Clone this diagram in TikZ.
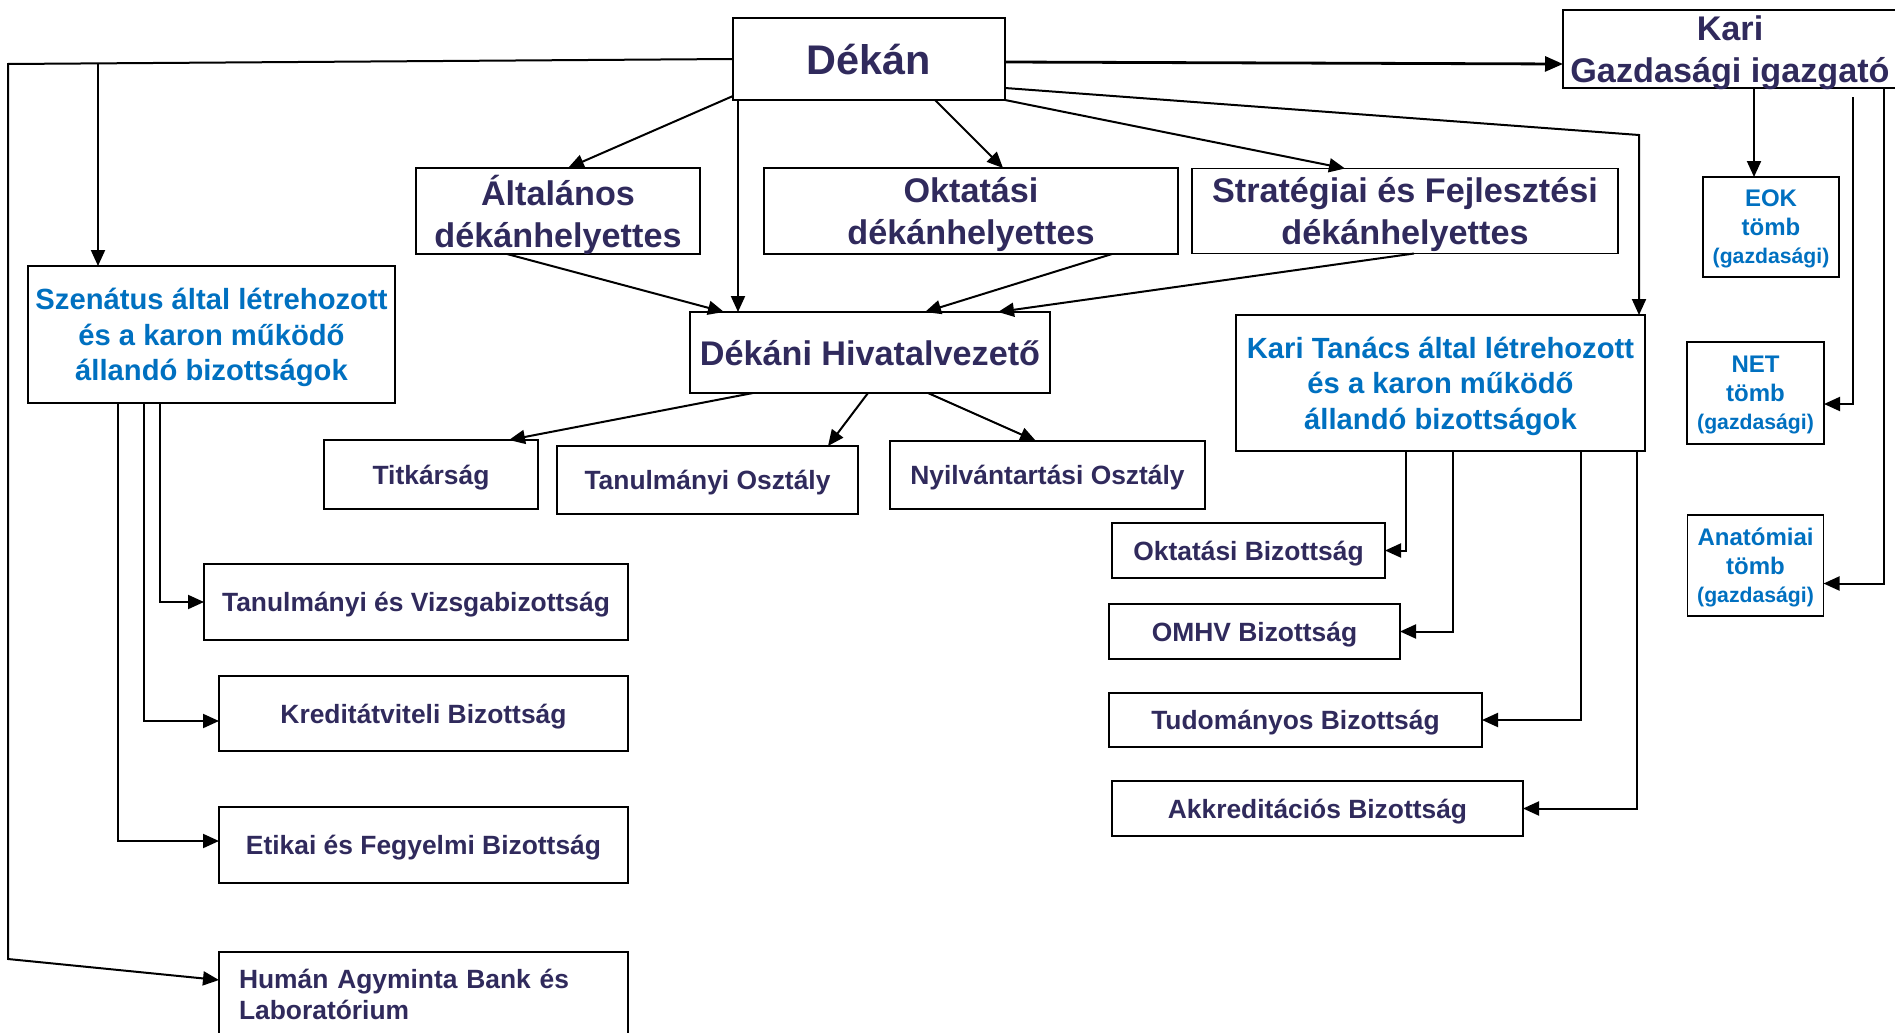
\documentclass[tikz,border=0pt]{standalone}
\usepackage{fontspec}
\setmainfont{Liberation Sans}
\usepackage{tikz}
\usetikzlibrary{positioning}
\usetikzlibrary{arrows.meta}

\definecolor{navy}{HTML}{302A5C}
\definecolor{karblue}{HTML}{0070C0}

\begin{document}
\begin{tikzpicture}[
                            box/.style={draw, line width=0.9pt, inner sep=0pt, outer sep=0pt, text depth=0pt, align=center, text=navy, font=\bfseries},
                            bigbox/.style={box, font=\bfseries\fontsize{17.1}{21}\selectfont},
                            smallbox/.style={box, font=\bfseries\fontsize{13.2}{15.5}\selectfont},
                            bluebox/.style={box, text=karblue, font=\bfseries\fontsize{14.6}{17.75}\selectfont},
                            tombbox/.style={box, text=karblue, font=\bfseries\fontsize{12}{14.25}\selectfont},
                            line/.style={line width=1pt},
                            arrow/.style={line width=1pt, -{Triangle[length=8pt,width=7pt]}}
                            ]
                            \useasboundingbox (0,0) rectangle (947.5pt,-516.5pt);

                            \node[box, font=\bfseries\fontsize{20.7}{24}\selectfont,
                                  minimum width=136pt, minimum height=41pt]                             (dekan)      at (434.5pt,-29.5pt) {Dékán};
                            \node[bigbox, minimum width=167pt, minimum height=39pt, right=279pt of dekan, yshift=5pt]          (gazd)       {Kari\\Gazdasági igazgató};
                            \node[bigbox, minimum width=142pt, minimum height=43pt, below=34pt of dekan, xshift=-155.5pt]      (altalanos)  {Általános\\dékánhelyettes};
                            \node[bigbox, minimum width=207pt, minimum height=43pt, below=34pt of dekan, xshift=51pt]          (oktatasi)   {Oktatási\\dékánhelyettes};
                            \node[bigbox, minimum width=213pt, minimum height=42.5pt, right=7pt of oktatasi]                   (strategiai) {Stratégiai és Fejlesztési\\dékánhelyettes};
                            \node[bigbox, minimum width=180pt, minimum height=40.5pt, below=106pt of dekan, xshift=0.5pt]      (hivatal)    {Dékáni Hivatalvezető};
                            \node[bluebox, minimum width=183.5pt, minimum height=68.5pt, left=147.5pt of hivatal, yshift=9pt]  (szenatus)   {Szenátus által létrehozott\\és a karon működő\\állandó bizottságok};
                            \node[bluebox, minimum width=204.5pt, minimum height=68pt, right=93pt of hivatal, yshift=-15.25pt] (karitanacs) {Kari Tanács által létrehozott\\és a karon működő\\állandó bizottságok};

                            \node[tombbox, minimum width=68pt, minimum height=50pt, below=44.5pt of gazd, xshift=20.5pt]      (eok)        {EOK\\tömb\\{\fontsize{10.6}{14.25}\selectfont(gazdasági)}};
                            \node[tombbox, minimum width=68.5pt, minimum height=51pt, below=32.5pt of eok, xshift=-7.75pt]    (net)        {NET\\tömb\\{\fontsize{10.6}{14.25}\selectfont(gazdasági)}};
                            \node[tombbox, minimum width=68pt, minimum height=50.5pt, below=35.5pt of net]                    (anatomiai)  {Anatómiai\\tömb\\{\fontsize{10.6}{14.25}\selectfont(gazdasági)}};

                            \node[smallbox, minimum width=107pt, minimum height=34.5pt, below=23.5pt of hivatal, xshift=-219.5pt] (titkarsag)      {Titkárság};
                            \node[smallbox, minimum width=150.5pt, minimum height=34pt, right=9.5pt of titkarsag, yshift=-2.75pt] (tanosztaly)     {Tanulmányi Osztály};
                            \node[smallbox, minimum width=157.5pt, minimum height=34pt, right=16pt of tanosztaly, yshift=2.5pt]   (nyilvantartasi) {Nyilvántartási Osztály};

                            \node[smallbox, minimum width=212pt, minimum height=38pt, below=27.5pt of titkarsag, xshift=-7.5pt]  (tanvizsga) {Tanulmányi és Vizsgabizottság};
                            \node[smallbox, minimum width=204.5pt, minimum height=37.5pt, below=18pt of tanvizsga, xshift=3.75pt] (kredit)    {Kreditátviteli Bizottság};
                            \node[smallbox, minimum width=204.5pt, minimum height=38pt, below=28pt of kredit]                     (etikai)    {Etikai és Fegyelmi Bizottság};
                            \node[smallbox, text width=184.5pt, inner xsep=10pt, minimum height=42.5pt, align=left, text depth=15.5pt,
                                  below=34.5pt of etikai]                                                                          (human)     {Humán Agyminta Bank és\\Laboratórium};

                            \node[smallbox, minimum width=136.5pt, minimum height=27.5pt, below=36pt of karitanacs, xshift=-96pt] (oktbiz) {Oktatási Bizottság};
                            \node[smallbox, minimum width=145.5pt, minimum height=27.5pt, below=13pt of oktbiz, xshift=3pt]       (omhv)   {OMHV Bizottság};
                            \node[smallbox, minimum width=186.5pt, minimum height=27pt, below=17pt of omhv, xshift=20.5pt]        (tudbiz) {Tudományos Bizottság};
                            \node[smallbox, minimum width=205.5pt, minimum height=27.5pt, below=17pt of tudbiz, xshift=11pt]      (akkbiz) {Akkreditációs Bizottság};

                            \coordinate (leftup)   at (4pt,-32pt);
                            \coordinate (leftdown) at (4pt,-479.5pt);
                            \coordinate (szbranch) at (49pt,-31.5pt);
                            \coordinate (ktbend)   at (819.5pt,-67.5pt);
                            \coordinate (netline)  at (926.5pt,-48.5pt);
                            \coordinate (dh)       at ([xshift=2.5pt]dekan.south west);
                            \coordinate (eokin)    at ([xshift=-8.5pt]eok.north);

                            \draw[arrow] (dekan.west) -- (leftup) -- (leftdown) -- ([yshift=-14pt]human.north west);
                            \draw[arrow] (szbranch) -- (szbranch |- szenatus.north);
                            \draw[arrow, line width=1.4pt, -{Triangle[length=9pt,width=7.5pt]}] ([yshift=-1.5pt]dekan.east) -- ([yshift=-7.5pt]gazd.west);
                            \draw[arrow] ([yshift=2pt]dekan.south west) -- ([xshift=5pt]altalanos.north);
                            \draw[arrow] (dh) -- (dh |- hivatal.north);
                            \draw[arrow] ([xshift=33pt]dekan.south) -- ([xshift=16pt]oktatasi.north);
                            \draw[arrow] (dekan.south east) -- ([xshift=-30pt]strategiai.north);
                            \draw[arrow] ([yshift=6pt]dekan.south east) -- (ktbend) -- (ktbend |- karitanacs.north);

                            \draw[arrow] (eokin |- gazd.south) -- (eokin);
                            \draw[arrow] (netline) |- ([yshift=-5.5pt]net.east);
                            \draw[arrow] ([xshift=77pt]gazd.south) |- ([yshift=-9pt]anatomiai.east);

                            \draw[arrow] ([xshift=-25.5pt]altalanos.south) -- ([xshift=-73pt]hivatal.north);
                            \draw[arrow] ([xshift=70.5pt]oktatasi.south)   -- ([xshift=27.5pt]hivatal.north);
                            \draw[arrow] ([xshift=4.5pt]strategiai.south)  -- ([xshift=64pt]hivatal.north);

                            \draw[arrow] ([xshift=-58.5pt]hivatal.south) -- ([xshift=39pt]titkarsag.north);
                            \draw[arrow] ([xshift=-1pt]hivatal.south)    -- ([xshift=60.25pt]tanosztaly.north);
                            \draw[arrow] ([xshift=29pt]hivatal.south)    -- ([xshift=-5.75pt]nyilvantartasi.north);

                            \draw[arrow] ([xshift=-25.75pt]szenatus.south) |- (tanvizsga.west);
                            \draw[arrow] ([xshift=-33.75pt]szenatus.south) |- ([yshift=-3.75pt]kredit.west);
                            \draw[arrow] ([xshift=-46.75pt]szenatus.south) |- ([yshift=2pt]etikai.west);

                            \draw[arrow] ([xshift=-17.25pt]karitanacs.south) |- (oktbiz.east);
                            \draw[arrow] ([xshift=6.25pt]karitanacs.south)   |- (omhv.east);
                            \draw[arrow] ([xshift=70.25pt]karitanacs.south)  |- (tudbiz.east);
                            \draw[arrow] ([xshift=98.25pt]karitanacs.south)  |- (akkbiz.east);
                        \end{tikzpicture}
\end{document}
